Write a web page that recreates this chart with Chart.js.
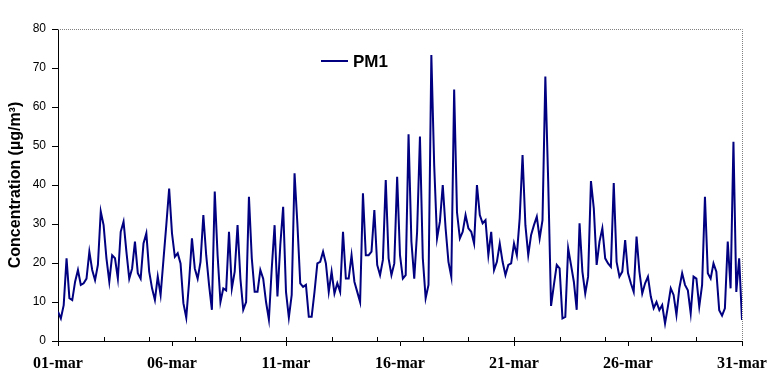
<!DOCTYPE html>
<html lang="pt">
<head>
<meta charset="UTF-8">
<title>PM1</title>
<script src="https://cdn.jsdelivr.net/npm/chart.js"></script>
<style>
  body { margin: 0; background: #fff; }
  #wrap { width: 781px; height: 392px; }
</style>
</head>
<body>
<div id="wrap"><canvas id="grafico" width="781" height="392"></canvas></div>
<script>
// datas do eixo x (a cada 5 dias)
const dayLabels = ['01-mar', '06-mar', '11-mar', '16-mar', '21-mar', '26-mar', '31-mar'];
const stepHours = 3; // leitura a cada 3 horas
// PM1 em ug/m3
const pm1 = [
  7.5, 5.8, 9.2, 21.2, 11, 10.5, 15.2, 18.2, 14.4, 14.8,
  16, 22.9, 18.2, 15.6, 19.5, 33.2, 29.7, 21.2, 15.2, 22,
  21.2, 16, 28, 30.6, 22.9, 16, 18.6, 25.5, 17.4, 16,
  25, 27.6, 17.8, 13.5, 10.5, 16.5, 11.8, 20.8, 29.7, 39.1,
  27.6, 21.6, 22.5, 19.9, 9.7, 6, 15.2, 26.3, 18.6, 16,
  20.3, 32.3, 22, 14.4, 8, 38.3, 22, 10, 13.5, 13,
  28, 13.5, 17.8, 29.7, 16, 8, 10, 37, 21.2, 12.6,
  12.6, 18.2, 16, 10, 5.5, 18.6, 29.7, 11.4, 24.6, 34.4,
  12.6, 6, 11.8, 43, 30, 14.8, 13.9, 14.4, 6.2, 6.2,
  12.6, 19.9, 20.3, 22.9, 19.9, 12.6, 17.8, 12.2, 14.8, 12.6,
  28, 16, 16, 22, 15.2, 12.6, 10, 37.9, 22, 22,
  22.9, 33.6, 19.5, 16.9, 20.8, 41.3, 21.2, 16.9, 19.9, 42.1,
  22, 16, 16.9, 53, 25.5, 16, 28, 52.4, 21.2, 11,
  14.4, 73.3, 45, 26.3, 30.6, 40, 28.9, 20.3, 16.5, 64.5,
  33, 26.3, 28, 32.3, 28.9, 28, 25, 40, 32.3, 30.2,
  31, 22, 28, 18.2, 20.3, 25, 20.3, 16.9, 19.5, 19.9,
  25, 22, 31.5, 47.7, 29.7, 22, 27.2, 29.7, 31.9, 26.3,
  31, 67.8, 40.9, 9, 14.4, 19.5, 18.6, 5.8, 6.2, 23.8,
  19.5, 15.2, 8, 30.2, 17.8, 12.2, 16.5, 41, 34, 19.5,
  25.5, 28.9, 21.2, 19.9, 19, 40.5, 20.3, 16.5, 17.8, 25.9,
  17.4, 14.8, 12.6, 26.8, 17.8, 12.2, 14.8, 16.5, 11.4, 8.4,
  10, 7.9, 9.2, 4.5, 8.8, 13.5, 11.8, 6.7, 13.5, 17.4,
  14.4, 13, 7.1, 16.5, 16, 8.8, 14.4, 37, 17.4, 16,
  19.9, 17.8, 7.9, 6.5, 8.4, 25.5, 13.5, 51.1, 12.6, 21.2,
  5.4
];
const hours = pm1.map((v, i) => i * stepHours);

// borda pontilhada em cima e na direita, tracinhos menores do eixo x e legenda
const extras = {
  id: 'extras',
  afterDraw(chart) {
    const ctx = chart.ctx;
    const a = chart.chartArea;
    const x = chart.scales.x;
    ctx.save();
    ctx.strokeStyle = '#808080';
    ctx.lineWidth = 1;
    ctx.setLineDash([1, 1]);
    ctx.beginPath();
    ctx.moveTo(a.left, a.top + 0.5);
    ctx.lineTo(a.right + 0.5, a.top + 0.5);
    ctx.lineTo(a.right + 0.5, a.bottom);
    ctx.stroke();
    ctx.setLineDash([]);

    ctx.strokeStyle = '#000';
    ctx.beginPath();
    for (let h = 48; h < 720; h += 48) {
      const px = Math.round(x.getPixelForValue(h)) + 0.5;
      ctx.moveTo(px, a.bottom);
      ctx.lineTo(px, a.bottom - 4);
    }
    ctx.stroke();

    const ds = chart.data.datasets[0];
    ctx.strokeStyle = ds.borderColor;
    ctx.lineWidth = 2;
    ctx.beginPath();
    ctx.moveTo(321, 61);
    ctx.lineTo(348, 61);
    ctx.stroke();
    ctx.fillStyle = '#000';
    ctx.font = 'bold 17px "Liberation Sans", Arial, sans-serif';
    ctx.textBaseline = 'middle';
    ctx.fillText(ds.label, 353, 62);
    ctx.restore();
  }
};

new Chart(document.getElementById('grafico'), {
  type: 'line',
  data: {
    labels: hours,
    datasets: [{
      label: 'PM1',
      data: pm1,
      borderColor: '#000080',
      borderWidth: 2,
      pointRadius: 0,
      tension: 0
    }]
  },
  options: {
    responsive: false,
    animation: false,
    layout: { padding: { top: 29, right: 39, left: 0, bottom: 0 } },
    plugins: {
      legend: { display: false },
      tooltip: { enabled: false }
    },
    scales: {
      x: {
        type: 'linear',
        min: 0,
        max: 720,
        afterFit(s) { s.height = 51; },
        ticks: {
          stepSize: 120,
          autoSkip: false,
          maxRotation: 0,
          padding: 8,
          color: '#000',
          font: { family: '"Liberation Serif", "Times New Roman", serif', size: 16, weight: 'bold' },
          callback: (v) => dayLabels[Math.round(v / 120)]
        },
        grid: { drawOnChartArea: false, drawTicks: true, tickLength: 5, color: '#000' },
        border: { display: true, color: '#000', width: 1 }
      },
      y: {
        min: 0,
        max: 80,
        afterFit(s) { s.width = 58; },
        ticks: {
          stepSize: 10,
          padding: 6,
          color: '#000',
          font: { family: '"Liberation Sans", Arial, sans-serif', size: 12 }
        },
        grid: { drawOnChartArea: false, drawTicks: true, tickLength: 6, color: '#000' },
        border: { display: true, color: '#000', width: 1 },
        title: {
          display: true,
          text: 'Concentration (µg/m³)',
          color: '#000',
          padding: { top: 6, bottom: 0 },
          font: { family: '"Liberation Sans", Arial, sans-serif', size: 16, weight: 'bold' }
        }
      }
    }
  },
  plugins: [extras]
});
</script>
</body>
</html>
